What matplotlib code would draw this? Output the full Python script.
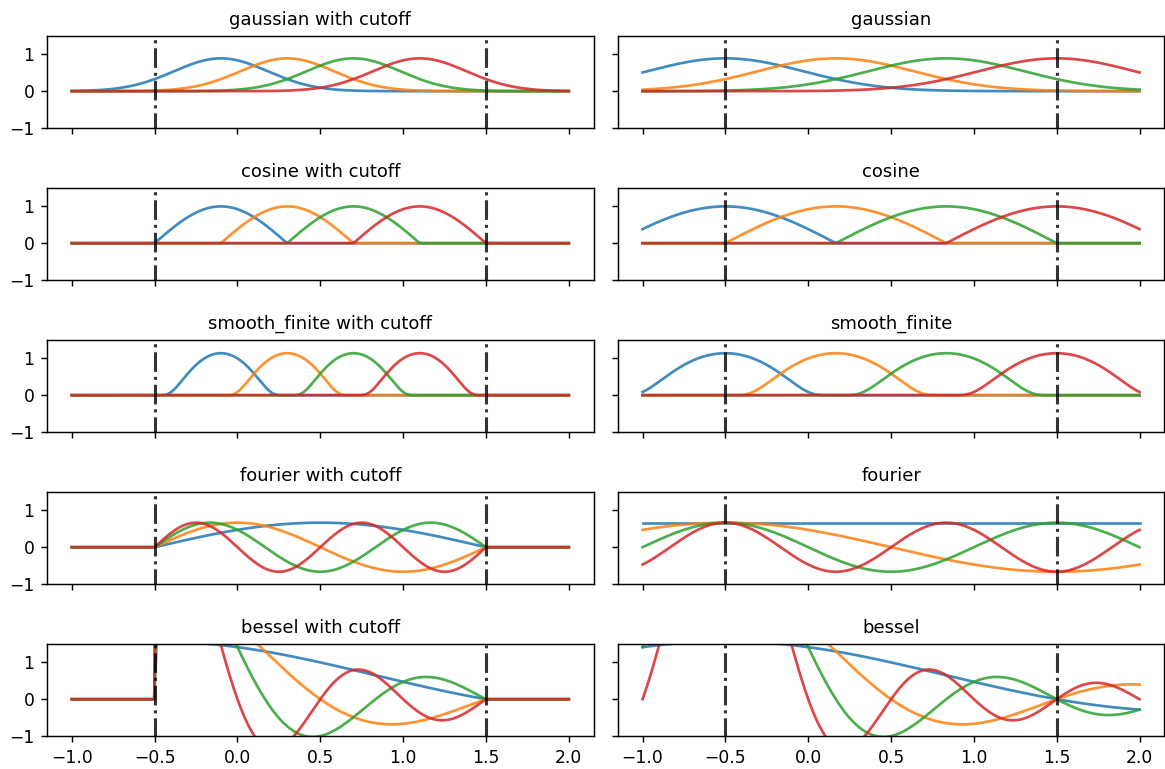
import math

import matplotlib
matplotlib.use('Agg')
import matplotlib.pyplot as plt
import numpy as np

# radial basis settings
bases = ['gaussian', 'cosine', 'smooth_finite', 'fourier', 'bessel']
cutoffs = [True, False]
start, end = -0.5, 1.5
number = 4
x_min, x_max, n_points = -1.0, 2.0, 200


def soft_unit_step(x):
    out = np.zeros_like(x)
    pos = x > 0
    out[pos] = np.exp(-1.0 / x[pos])
    return out


def soft_one_hot_linspace(x, start, end, number, basis, cutoff):
    if not cutoff:
        values = np.linspace(start, end, number)
        step = values[1] - values[0]
    else:
        values = np.linspace(start, end, number + 2)
        step = values[1] - values[0]
        values = values[1:-1]

    diff = (x[:, None] - values) / step

    if basis == 'gaussian':
        return np.exp(-diff ** 2) / 1.12

    if basis == 'cosine':
        return np.cos(math.pi / 2 * diff) * (diff < 1) * (-1 < diff)

    if basis == 'smooth_finite':
        return 1.14136 * math.exp(2.0) * soft_unit_step(diff + 1) * soft_unit_step(1 - diff)

    if basis == 'fourier':
        t = (x[:, None] - start) / (end - start)
        if not cutoff:
            i = np.arange(0, number)
            return np.cos(math.pi * i * t) / math.sqrt(0.25 + number / 2)
        i = np.arange(1, number + 1)
        return np.sin(math.pi * i * t) / math.sqrt(0.25 + number / 2) * (0 < t) * (t < 1)

    if basis == 'bessel':
        t = x[:, None] - start
        c = end - start
        roots = np.arange(1, number + 1) * math.pi
        out = math.sqrt(2 / c) * np.sin(roots * t / c) / t
        if not cutoff:
            return out
        return out * ((t / c) < 1) * (0 < t)


plt.rcParams['xtick.labelsize'] = 9.5
plt.rcParams['ytick.labelsize'] = 9.5
plt.rcParams['axes.titlesize'] = 10

x = np.linspace(x_min, x_max, n_points)

fig, axss = plt.subplots(len(bases), 2, figsize=(1165 / 130, 769 / 130), dpi=130,
                         sharex=True, sharey=True)
for axs, b in zip(axss, bases):
    for ax, c in zip(axs, cutoffs):
        ys = soft_one_hot_linspace(x, start, end, number, b, c)
        for k in range(number):
            ax.plot(x, ys[:, k], color=f'C{k}', alpha=0.85)
        ax.plot([start] * 2, [-2, 2], 'k-.', lw=1.7, alpha=0.8)
        ax.plot([end] * 2, [-2, 2], 'k-.', lw=1.7, alpha=0.8)
        ax.set_title(f"{b}" + (" with cutoff" if c else ""))

axss[0, 0].set_ylim(-1, 1.5)
fig.subplots_adjust(left=0.0403, right=0.9995, top=0.9532, bottom=0.0429,
                    wspace=0.044, hspace=0.652)
fig.savefig('out.png', dpi=130)
